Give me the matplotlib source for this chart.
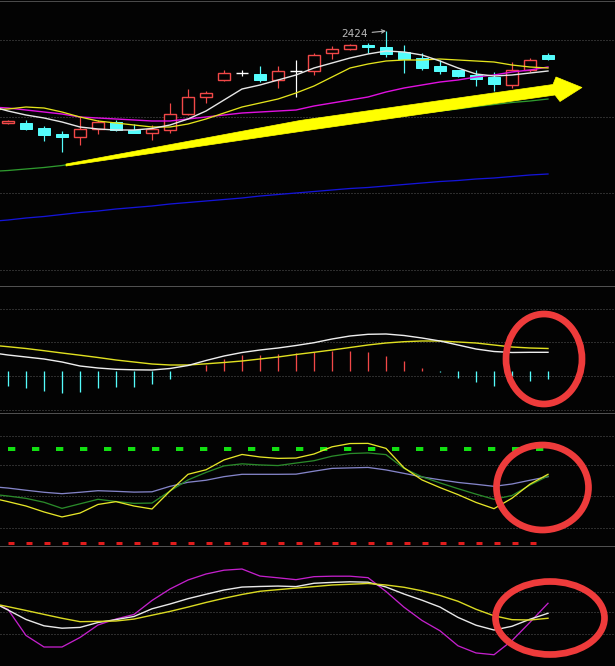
import numpy as np
import matplotlib
matplotlib.use("Agg")
import matplotlib.pyplot as plt
from matplotlib.patches import Rectangle, Ellipse, Polygon
from matplotlib.lines import Line2D

plt.rcParams['lines.scale_dashes'] = False

W, H, DPI = 615, 666, 100
PX = 72.0 / DPI  # one pixel in points

# ---------------- price panel ----------------
opens  = [2240, 2241, 2230, 2218, 2213, 2228, 2242, 2227, 2221, 2227, 2259, 2293, 2326, 2341, 2339, 2327,
          2345, 2345, 2381, 2389, 2396, 2393, 2383, 2371, 2354, 2346, 2336, 2333, 2316, 2346, 2377]
closes = [2244, 2228, 2217, 2213, 2229, 2242, 2226, 2221, 2229, 2259, 2293, 2301, 2340, 2341, 2326, 2345,
          2345, 2376, 2389, 2396, 2393, 2379, 2368, 2350, 2344, 2334, 2329, 2318, 2347, 2366, 2369]
highs  = [2246, 2246, 2234, 2224, 2252, 2246, 2246, 2238, 2236, 2281, 2309, 2305, 2346, 2346, 2354, 2354,
          2367, 2381, 2395, 2398, 2401, 2424, 2396, 2381, 2366, 2346, 2347, 2343, 2363, 2371, 2381]
lows   = [2238, 2227, 2205, 2183, 2197, 2218, 2225, 2221, 2207, 2221, 2256, 2281, 2324, 2334, 2322, 2311,
          2293, 2336, 2369, 2386, 2381, 2373, 2341, 2346, 2338, 2332, 2314, 2305, 2311, 2343, 2366]

# moving averages, one value per session starting one session before the first candle
ma5   = [2274, 2264, 2256, 2250, 2242, 2232, 2228, 2226, 2226, 2229, 2236, 2248, 2264, 2286, 2308, 2316,
         2326, 2336, 2350, 2360, 2370, 2378, 2384, 2382, 2376, 2364, 2350, 2338, 2334, 2336, 2340, 2344]
ma10  = [2266, 2268, 2272, 2270, 2262, 2252, 2244, 2240, 2236, 2232, 2232, 2238, 2248, 2260, 2272, 2280,
         2288, 2300, 2314, 2332, 2350, 2358, 2364, 2366, 2366, 2368, 2366, 2364, 2362, 2356, 2352, 2350]
ma20  = [2272, 2270, 2266, 2262, 2258, 2252, 2250, 2248, 2246, 2244, 2244, 2248, 2252, 2256, 2260, 2262,
         2264, 2266, 2274, 2280, 2286, 2292, 2302, 2310, 2316, 2322, 2326, 2332, 2336, 2342, 2346, 2352]
ma60  = [2143, 2145, 2148, 2151, 2155, 2161, 2167, 2173, 2179, 2185, 2191, 2197, 2202, 2208, 2213, 2218,
         2224, 2229, 2233, 2238, 2243, 2247, 2252, 2256, 2260, 2264, 2268, 2273, 2277, 2281, 2284, 2288]
ma120 = [2043, 2046, 2050, 2053, 2057, 2061, 2064, 2068, 2071, 2074, 2078, 2081, 2084, 2087, 2090, 2094,
         2097, 2100, 2103, 2106, 2109, 2111, 2114, 2117, 2120, 2123, 2125, 2128, 2130, 2133, 2136, 2138]

# ---------------- MACD panel ----------------
macd_hist = [-15, -17, -20, -22, -20.5, -17, -16, -15.5, -13, -8, 0.4, 5.7, 12, 16, 16, 17,
             17.7, 18.7, 20.3, 20, 19.3, 15, 10, 2.7, -1, -7.3, -10.7, -15, -5, -10, -8]
dif = [18.5, 16, 14, 12, 9, 5, 3, 1.7, 1.2, 1, 2.5, 5.5, 10.5, 15, 18.5, 21,
       23, 25.5, 28.3, 32, 35, 36.7, 37, 35.5, 33, 30, 26, 22, 19.5, 18.5, 18.7, 18.7]
dea = [26, 24.3, 22.5, 20.3, 18, 15.8, 13.5, 11, 9, 7, 6, 6, 7.2, 8.5, 10, 12,
       14, 16.5, 18.7, 21, 23.5, 26, 28, 29.3, 30, 30, 29, 28, 26, 24, 23, 22.5]

# ---------------- KDJ panel ----------------
k_line = [48.9, 46.3, 43.5, 39.7, 36.5, 39.0, 44.5, 46.3, 43.5, 41.6, 53.1, 63.8, 66.7, 73.0, 76.5, 74.9,
          74.0, 74.2, 76.8, 81.4, 83.5, 83.6, 80.4, 68.0, 60.2, 55.3, 50.8, 45.8, 41.8, 48.5, 57.5, 63.8]
d_line = [51.2, 49.9, 48.4, 45.9, 42.0, 44.9, 47.8, 46.4, 45.2, 45.4, 53.1, 60.2, 65.0, 69.2, 70.5, 69.8,
          69.4, 71.0, 72.5, 75.4, 77.1, 77.5, 76.4, 67.6, 62.2, 58.3, 54.6, 51.1, 47.8, 50.2, 56.9, 62.7]
j_line = [56.0, 55.0, 53.6, 52.3, 51.4, 52.3, 53.3, 52.9, 52.4, 52.6, 56.1, 58.7, 60.0, 62.3, 63.8, 63.8,
          63.8, 63.9, 65.8, 67.6, 67.9, 68.2, 66.6, 64.4, 62.1, 60.3, 58.6, 57.4, 56.1, 57.6, 60.0, 62.3]
kdj_upper, kdj_lower = 80, 20

# ---------------- oscillator panel ----------------
osc_fast = [66.5, 53.8, 14.8, -2.5, -2.5, 11.8, 30.5, 39.5, 46.3, 67.3, 84.5, 98, 107, 112.7, 114.5, 103.9,
            101.3, 98.5, 103, 103.7, 103.7, 101.5, 80.8, 57.2, 37.3, 21.8, -0.7, -11.4, -14.1, 7.1, 34.6, 63.1]
osc_mid  = [66.5, 53, 38.8, 29.3, 25.7, 26.9, 34.3, 38.6, 43.3, 54.8, 62, 70, 76.6, 83, 87.4, 88.3,
            88.9, 88.1, 93.1, 94.4, 95.3, 94.7, 87.5, 77, 67.7, 57.4, 41.9, 30.2, 23, 28.6, 39.2, 48.1]
osc_slow = [63.5, 58, 52.3, 46.4, 40.6, 35.5, 35.9, 36.5, 39.4, 45.2, 50.9, 57.4, 64.3, 70.6, 76.3, 81.1,
            83.5, 85.9, 88.1, 90.5, 91.6, 92.8, 90.5, 87.1, 81.8, 74.8, 66.1, 54.1, 44.3, 38.5, 38, 40.6]

UP = '#F24848'
DOWN = '#54FCFC'

n = len(opens)
cx = np.arange(n)
lx = np.arange(-1, n)

fig = plt.figure(figsize=(W / DPI, H / DPI), dpi=DPI, facecolor='#030303')


def panel(top, bottom, ylim):
    ax = fig.add_axes([0, 1 - bottom / H, 1, (bottom - top) / H])
    ax.set_axis_off()
    ax.set_facecolor('none')
    ax.set_xlim(-8 / 18, (W - 8) / 18)
    ax.set_ylim(*ylim)
    return ax


def hrule(ypix, dotted=True, color='#585858'):
    y = 1 - ypix / H
    fig.add_artist(Line2D([0, 1], [y, y], transform=fig.transFigure, color=color,
                          lw=1.0 * PX, zorder=-1,
                          linestyle=(0, (1 * PX, 2 * PX)) if dotted else '-'))


# frame rules and grid rows
hrule(0.5, dotted=False, color='#4a4a4a')
for yp in (286, 413, 546):
    hrule(yp, dotted=False, color='#505050')
for yp in (40, 116.5, 193, 270, 309, 342, 376, 410, 436, 465, 496, 528, 592, 612, 634):
    hrule(yp)

# ---------- price panel ----------
ax1 = panel(0, 286, (1914, 2486))
bw = 0.7
for i in range(n):
    o, c, h, l = opens[i], closes[i], highs[i], lows[i]
    if o == c:
        ax1.vlines(i, l, h, color='white', lw=1.2 * PX, zorder=3)
        ax1.hlines(o, i - bw / 2, i + bw / 2, color='white', lw=1.4 * PX, zorder=3)
    elif c > o:
        ax1.vlines(i, l, h, color=UP, lw=1.2 * PX, zorder=2)
        ax1.add_patch(Rectangle((i - bw / 2, o), bw, c - o, facecolor='#030303',
                                edgecolor=UP, lw=1.4 * PX, zorder=3))
    else:
        ax1.vlines(i, l, h, color=DOWN, lw=1.2 * PX, zorder=2)
        ax1.add_patch(Rectangle((i - bw / 2, c), bw, o - c, facecolor=DOWN,
                                edgecolor=DOWN, lw=1.0 * PX, zorder=3))

ax1.plot(lx, ma120, color='#1414D8', lw=1.3 * PX, zorder=4)
ax1.plot(lx, ma60, color='#2E9A2E', lw=1.3 * PX, zorder=4)
ax1.plot(lx, ma20, color='#E010E0', lw=1.4 * PX, zorder=4)
ax1.plot(lx, ma10, color='#E4E41C', lw=1.3 * PX, zorder=4)
ax1.plot(lx, ma5, color='#E6E6E6', lw=1.4 * PX, zorder=4)

top = int(np.argmax(highs))
ax1.annotate(str(highs[top]), xy=(top, highs[top]), xytext=(-18, -3),
             textcoords='offset pixels', ha='right', va='center',
             fontsize=7.6, color='#B8B8B8',
             arrowprops=dict(arrowstyle='->', color='#B8B8B8', lw=0.8,
                             shrinkA=1, shrinkB=0, mutation_scale=6))

# trend arrow drawn over the price panel (figure pixel outline)
arrow_px = [(66, 164), (300, 120.5), (553, 84.5), (556, 77), (582, 87.5),
            (560, 101.5), (555, 95), (300, 131.5), (66, 166)]
fig.add_artist(Polygon([(x / W, 1 - y / H) for x, y in arrow_px], closed=True,
                       transform=fig.transFigure, facecolor='#FFFF00',
                       edgecolor='#FFFF00', lw=0.5, zorder=5))

# ---------- MACD panel ----------
ax2 = panel(286, 413, (-42, 85))
hist = np.array(macd_hist)
ax2.vlines(cx, 0, hist, colors=[UP if v > 0 else DOWN for v in hist], lw=1.3 * PX)
ax2.plot(lx, dea, color='#E0E020', lw=1.4 * PX)
ax2.plot(lx, dif, color='#EEEEEE', lw=1.4 * PX)

# ---------- KDJ panel ----------
ax3 = panel(413, 546, (17.9, 103.05))
ax3.plot([cx[0], cx[-1]], [kdj_upper] * 2, color='#12E012', lw=4 * PX,
         linestyle=(0, (7.3 * PX, 16.7 * PX)), solid_capstyle='butt', dash_capstyle='butt')
ax3.plot([cx[0], cx[-1]], [kdj_lower] * 2, color='#E01C1C', lw=3 * PX,
         linestyle=(0, (6 * PX, 12 * PX)), solid_capstyle='butt', dash_capstyle='butt')
ax3.plot(lx, j_line, color='#8484C8', lw=1.3 * PX)
ax3.plot(lx, d_line, color='#2A8A2A', lw=1.3 * PX)
ax3.plot(lx, k_line, color='#E6E628', lw=1.3 * PX)

# ---------- oscillator panel ----------
ax4 = panel(546, 666, (-31, 149))
ax4.plot(lx, osc_fast, color='#C420CC', lw=1.3 * PX)
ax4.plot(lx, osc_mid, color='#E8E8E8', lw=1.4 * PX)
ax4.plot(lx, osc_slow, color='#DADA22', lw=1.4 * PX)

# highlight rings around the latest readings (figure pixels: cx, cy, w, h)
rings = [(544, 359, 76, 90), (542.5, 487.5, 92, 85), (550, 618, 109, 73)]
for x, y, w, h in rings:
    fig.add_artist(Ellipse((x / W, 1 - y / H), w / W, h / H, transform=fig.transFigure,
                           fill=False, edgecolor='#EE3B3B', lw=6.7 * PX, zorder=6))

fig.savefig('out.png', dpi=DPI, facecolor=fig.get_facecolor())
